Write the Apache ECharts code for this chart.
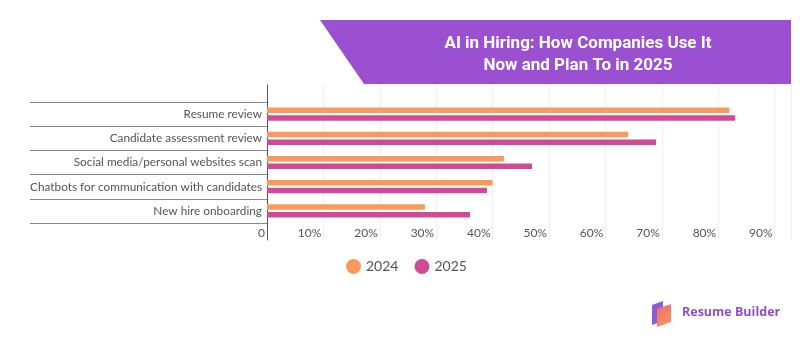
<!DOCTYPE html>
<html>
<head>
<meta charset="utf-8">
<script src="https://cdn.jsdelivr.net/npm/echarts@6/dist/echarts.min.js"></script>
<style>
html,body{margin:0;padding:0;background:#fff;}
#c{width:800px;height:338px;}
</style>
</head>
<body>
<div id="c"></div>
<script>
const categories = [
  "Resume review",
  "Candidate assessment review",
  "Social media/personal websites scan",
  "Chatbots for communication with candidates",
  "New hire onboarding"
];
const values2024 = [82, 64, 42, 40, 28];
const values2025 = [83, 69, 47, 39, 36];
const seriesNames = ["2024", "2025"];
const xTicks = [0, 10, 20, 30, 40, 50, 60, 70, 80, 90];
const titleLines = ["AI in Hiring: How Companies Use It", "Now and Plan To in 2025"];

const chart = echarts.init(document.getElementById('c'), null, {renderer: 'canvas'});
const font = 'Lato, "Open Sans", sans-serif';
const xMax = 93;

chart.setOption({
  backgroundColor: '#ffffff',
  animation: false,
  textStyle: {fontFamily: font},
  legend: {
    data: seriesNames,
    top: 254,
    left: 341,
    icon: 'circle',
    itemWidth: 15,
    itemHeight: 15,
    itemGap: 16,
    textStyle: {fontSize: 14, color: '#555', fontFamily: font}
  },
  grid: [
    {left: 267, right: 8.5, top: 85, bottom: 98, containLabel: false},
    {left: 267, right: 8.5, top: 102, bottom: 115, containLabel: false}
  ],
  xAxis: [
    {
      type: 'value', gridIndex: 0, min: 0, max: xMax, interval: 10,
      axisLine: {show: false}, axisTick: {show: false},
      splitLine: {show: true, lineStyle: {color: '#efeff2', width: 1}},
      axisLabel: {
        showMaxLabel: false,
        margin: -13, align: 'right', padding: [0, 2, 0, 0],
        fontSize: 12, color: '#555', fontFamily: font,
        formatter: function (v) { return xTicks.indexOf(v) < 0 ? '' : (v === 0 ? '0' : v + '%'); }
      }
    },
    {
      type: 'value', gridIndex: 1, min: 0, max: xMax, show: false
    }
  ],
  yAxis: [
    {
      type: 'value', gridIndex: 0, min: 0, max: 1,
      axisLine: {show: true, lineStyle: {color: '#555', width: 1}},
      axisTick: {show: false}, axisLabel: {show: false}, splitLine: {show: false}
    },
    {
      type: 'category', gridIndex: 1, inverse: true, data: categories,
      axisLine: {show: false},
      axisTick: {show: true, length: 237, lineStyle: {color: '#8a8a8a', width: 1}},
      axisLabel: {margin: 5, fontSize: 11.8, color: '#555', fontFamily: font},
      splitLine: {show: false}
    }
  ],
  series: [
    {
      name: seriesNames[0], type: 'bar', xAxisIndex: 1, yAxisIndex: 1,
      data: values2024, barWidth: 5.5, barGap: '40%',
      itemStyle: {color: '#f89a5b'}
    },
    {
      name: seriesNames[1], type: 'bar', xAxisIndex: 1, yAxisIndex: 1,
      data: values2025, barWidth: 5.5, barGap: '40%',
      itemStyle: {color: '#d14a95'}
    }
  ],
  graphic: [
    {
      type: 'polygon', z: -1,
      shape: {points: [[320, 20], [791, 20], [791, 84], [364, 84]]},
      style: {fill: '#9b4fd1'}
    },
    {
      type: 'text', x: 578, y: 33, z: 5,
      style: {
        text: titleLines.join('\n'),
        fill: '#ffffff',
        font: 'bold 17px Roboto, "Liberation Sans", sans-serif',
        lineHeight: 22,
        align: 'center',
        textAlign: 'center'
      }
    },
    {
      type: 'group', x: 648, y: 302,
      children: [
        {type: 'polygon', shape: {points: [[4, 3], [15, -1], [15, 19], [4, 23]]},
         style: {fill: '#8e5bd6'}},
        {type: 'polygon', shape: {points: [[9, 7], [23, 2], [23, 20], [9, 25]]},
         style: {fill: new echarts.graphic.LinearGradient(0, 0, 1, 1, [
           {offset: 0, color: '#f26b7d'}, {offset: 1, color: '#f79a4f'}])}}
      ]
    },
    {
      type: 'text', x: 682, y: 306,
      style: {
        text: 'Resume Builder', fill: '#8e4fc8',
        font: 'bold 12.5px "Open Sans", "Noto Sans", sans-serif'
      }
    }
  ]
});
</script>
</body>
</html>
